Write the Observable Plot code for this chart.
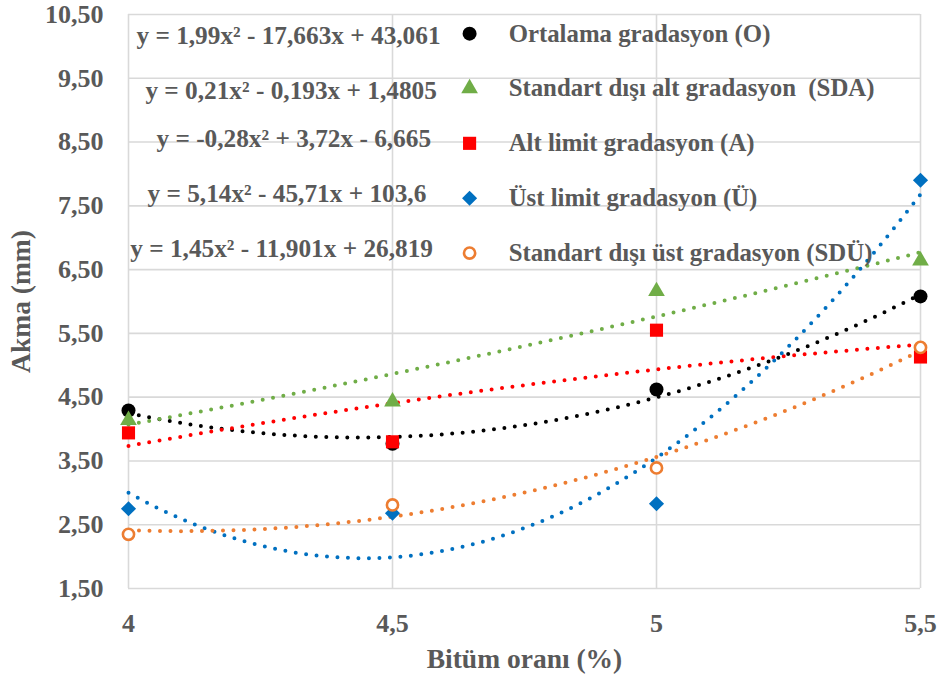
<!DOCTYPE html>
<html>
<head>
<meta charset="utf-8">
<script src="https://cdn.jsdelivr.net/npm/d3@7"></script>
<script src="https://cdn.jsdelivr.net/npm/@observablehq/plot@0.6"></script>
<style>
  html, body { margin: 0; padding: 0; background: #fff; }
  #chart { width: 941px; height: 682px; }
</style>
</head>
<body>
<div id="chart"></div>
<script>
// Bitumen content (%) on the x axis
const bitumen = [4, 4.5, 5, 5.5];

// Flow (mm) measured for each gradation
const flowO   = [4.29, 3.77, 4.62, 6.08];
const flowSDA = [4.14, 4.43, 6.16, 6.64];
const flowA   = [3.94, 3.80, 5.55, 5.13];
const flowU   = [2.75, 2.68, 2.83, 7.90];
const flowSDU = [2.35, 2.81, 3.39, 5.28];

const seriesNames = [
  "Ortalama gradasyon (O)",
  "Standart dışı alt gradasyon  (SDA)",
  "Alt limit gradasyon (A)",
  "Üst limit gradasyon (Ü)",
  "Standart dışı üst gradasyon (SDÜ)"
];

// Second-order trendline coefficients [a, b, c] for y = a·x² + b·x + c
const coefO   = [1.99, -17.663, 43.061];
const coefSDA = [0.21, -0.193, 1.4805];
const coefA   = [-0.28, 3.72, -6.665];
const coefU   = [5.14, -45.71, 103.6];
const coefSDU = [1.45, -11.901, 26.819];

const equationLabels = [
  "y = 1,99x² - 17,663x + 43,061",
  "y = 0,21x² - 0,193x + 1,4805",
  "y = -0,28x² + 3,72x - 6,665",
  "y = 5,14x² - 45,71x + 103,6",
  "y = 1,45x² - 11,901x + 26,819"
];

const xTicks = [4, 4.5, 5, 5.5];
const yTicks = [1.5, 2.5, 3.5, 4.5, 5.5, 6.5, 7.5, 8.5, 9.5, 10.5];

// Series styling
const styles = [
  {key: "O",   values: flowO,   coef: coefO,   color: "#000000", symbol: "circle",   r: 7,   hollow: false},
  {key: "SDA", values: flowSDA, coef: coefSDA, color: "#70AD47", symbol: "triangle", r: 6.2, hollow: false},
  {key: "A",   values: flowA,   coef: coefA,   color: "#FF0000", symbol: "square",   r: 7.4, hollow: false},
  {key: "U",   values: flowU,   coef: coefU,   color: "#0070C0", symbol: "diamond2", r: 6.8, hollow: false},
  {key: "SDU", values: flowSDU, coef: coefSDU, color: "#ED7D31", symbol: "circle",   r: 5.6, hollow: true}
];

// Point table
const points = styles.flatMap((s, i) =>
  bitumen.map((x, j) => ({series: i, x, y: s.values[j]}))
);

// Trend curves evaluated from the stated equations across the x range
const xs = d3.range(4, 5.5001, 0.01);
const trends = styles.map(s =>
  xs.map(x => ({x, y: s.coef[0] * x * x + s.coef[1] * x + s.coef[2]}))
);

const comma = v => String(v).replace(".", ",");
const textColor = "#595959";
const serif = "'Liberation Serif', 'Times New Roman', serif";

// Legend and equation placement (in data units of the plot frame)
const legendRows = seriesNames.map((name, i) => ({i, name}));
const legendY = i => 10.2 - i * 0.86;
const eqPos = [
  {x: 4.303, y: 10.17},
  {x: 4.308, y: 9.31},
  {x: 4.313, y: 8.55},
  {x: 4.300, y: 7.69},
  {x: 4.290, y: 6.83}
];
const eqRows = equationLabels.map((t, i) => ({t, ...eqPos[i]}));

const marks = [
  Plot.ruleY(yTicks, {stroke: "#D9D9D9", strokeWidth: 1.6}),
  Plot.ruleX(xTicks, {stroke: "#D9D9D9", strokeWidth: 1.6}),
  ...trends.map((t, i) =>
    Plot.line(t, {
      x: "x", y: "y",
      stroke: styles[i].color,
      strokeWidth: 4,
      strokeDasharray: "0 10.5",
      strokeLinecap: "round"
    })
  ),
  ...styles.map((s, i) =>
    Plot.dot(points.filter(p => p.series === i), {
      x: "x", y: "y",
      symbol: s.symbol, r: s.r,
      fill: s.hollow ? "white" : s.color,
      stroke: s.hollow ? s.color : "none",
      strokeWidth: s.hollow ? 2.6 : 0
    })
  ),
  // legend markers
  ...styles.map((s, i) =>
    Plot.dot([legendRows[i]], {
      x: () => 4.646, y: d => legendY(d.i),
      symbol: s.symbol, r: s.r,
      fill: s.hollow ? "white" : s.color,
      stroke: s.hollow ? s.color : "none",
      strokeWidth: s.hollow ? 2.6 : 0
    })
  ),
  // legend labels
  Plot.text(legendRows, {
    x: () => 4.72, y: d => legendY(d.i), text: "name",
    textAnchor: "start", lineAnchor: "middle",
    fill: textColor, fontSize: 24.8, fontWeight: "bold", fontFamily: serif
  }),
  // trendline equations
  Plot.text(eqRows, {
    x: "x", y: "y", text: "t",
    textAnchor: "middle", lineAnchor: "middle",
    fill: textColor, fontSize: 25.3, fontWeight: "bold", fontFamily: serif
  }),
  Plot.axisX({
    ticks: xTicks, tickFormat: comma, tickSize: 0, tickPadding: 25,
    label: null, fontSize: 26
  }),
  Plot.axisY({
    ticks: yTicks, tickFormat: d => d.toFixed(2).replace(".", ","),
    tickSize: 0, tickPadding: 25, label: null, fontSize: 26
  }),
  Plot.text(["Bitüm oranı (%)"], {
    frameAnchor: "bottom", dy: 71, text: d => d,
    textAnchor: "middle", lineAnchor: "middle",
    fill: textColor, fontSize: 27.5, fontWeight: "bold", fontFamily: serif
  }),
  Plot.text(["Akma (mm)"], {
    frameAnchor: "left", dx: -107, rotate: -90, text: d => d,
    textAnchor: "middle", lineAnchor: "middle",
    fill: textColor, fontSize: 27.5, fontWeight: "bold", fontFamily: serif
  })
];

const chart = Plot.plot({
  width: 941,
  height: 682,
  marginLeft: 128,
  marginRight: 21,
  marginTop: 14,
  marginBottom: 94,
  x: {domain: [4, 5.5]},
  y: {domain: [1.5, 10.5]},
  style: {
    fontFamily: serif,
    fontWeight: "bold",
    color: textColor,
    background: "white",
    overflow: "visible"
  },
  marks
});

document.getElementById("chart").appendChild(chart);
</script>
</body>
</html>
